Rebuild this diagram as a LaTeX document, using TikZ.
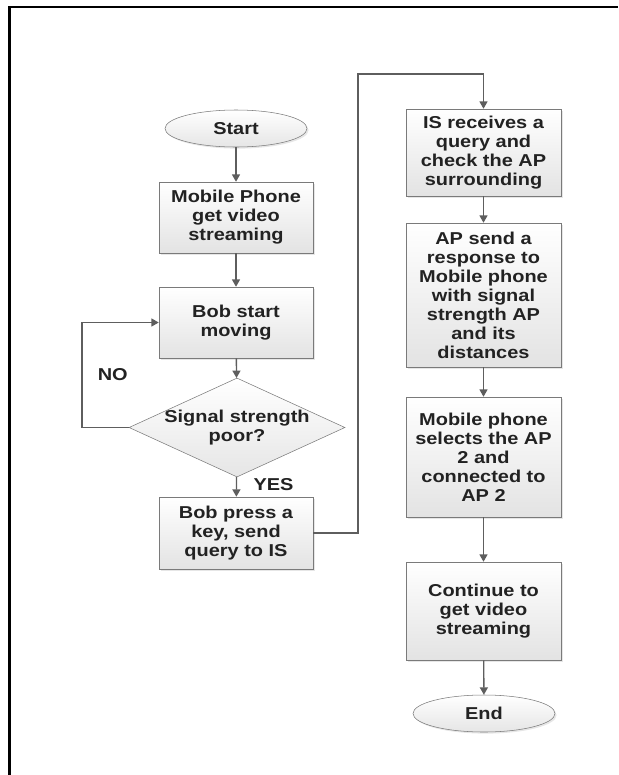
\documentclass[tikz,border=0pt]{standalone}
\usepackage{fontspec}
\setmainfont{Liberation Sans}[FakeStretch=1.16]
\usetikzlibrary{arrows.meta, positioning, shapes.geometric, shadows}

\definecolor{linegray}{HTML}{5E5E5E}
\definecolor{boxedge}{HTML}{7A7A7A}
\definecolor{inkgray}{HTML}{222222}

\begin{document}
\begin{tikzpicture}[x=0.75pt, y=-0.75pt,
    flowtext/.style={font=\bfseries\fontsize{12.9}{14.25}\selectfont, text=inkgray, align=center},
    procbox/.style={flowtext, rectangle, draw=boxedge, top color=white, bottom color=gray!22,
        inner sep=0pt, minimum width=115.5pt,
        drop shadow={shadow xshift=1.2pt, shadow yshift=-1.2pt, opacity=0.2}},
    termnode/.style={flowtext, ellipse, draw=boxedge, top color=white, bottom color=gray!20,
        inner sep=0pt, minimum width=106.5pt, minimum height=27.75pt,
        drop shadow={shadow xshift=1.2pt, shadow yshift=-1.2pt, opacity=0.2}},
    decision/.style={diamond, draw=boxedge, top color=white, bottom color=gray!20,
        inner sep=0pt, minimum width=162pt, minimum height=74.25pt},
    flow/.style={draw=linegray, line width=1pt, -{Triangle[width=6pt, length=5.5pt]}}]

\useasboundingbox (0,0) rectangle (618,775);

% frame, only top and left edges show
\draw[line width=1.8pt] (9.5,775) -- (9.5,7) -- (618,7);

% left column
\node[termnode] (start) at (236,128.5) {Start};
\node[procbox, minimum height=53.25pt] (getvideo) at (236,217.5) {Mobile Phone\\get video\\streaming};
\node[procbox, minimum height=53.25pt] (moving) at (236,322.5) {Bob start\\moving};
% the question sits in the diamond as a label so the shape keeps its size
\node[decision, label={[flowtext]center:Signal strength\\poor?}] (poor) at (237,427.5) {};
\node[procbox, minimum height=54pt] (presskey) at (236,533) {Bob press a\\key, send\\query to IS};

% right column
\node[procbox, minimum width=116.25pt, minimum height=65.25pt] (query) at (483.5,152.5)
    {IS receives a\\query and\\check the AP\\surrounding};
\node[procbox, minimum width=116.25pt, minimum height=108pt] (response) at (483.5,295)
    {AP send a\\response to\\Mobile phone\\with signal\\strength AP\\and its\\distances};
\node[procbox, minimum width=116.25pt, minimum height=90pt] (select) at (483.5,457)
    {Mobile phone\\selects the AP\\2 and\\connected to\\AP 2};
\node[procbox, minimum width=116.25pt, minimum height=73.5pt] (continue) at (483.5,611)
    {Continue to\\get video\\streaming};
\node[termnode] (end) at (484,713.5) {End};

% turning points of the two long connectors
\coordinate (noturn) at (82,427.5);
\coordinate (upturn) at (358,74);

% arrows down the left column
\draw[flow] (start) -- (getvideo);
\draw[flow] (getvideo) -- (moving);
\draw[flow] (moving) -- (poor);
\draw[flow] (poor) -- node[flowtext, pos=0.4, right=9pt] {YES} (presskey);
\draw[flow] (poor.west) -- (noturn) |- node[flowtext, pos=0.25, right=8pt] {NO} (moving.west);

% over to the right column
\draw[flow] (presskey.east) -| (upturn) -| (query.north);

% arrows down the right column
\draw[flow] (query) -- (response);
\draw[flow] (response) -- (select);
\draw[flow] (select) -- (continue);
\draw[flow] (continue) -- (end);

\end{tikzpicture}
\end{document}
